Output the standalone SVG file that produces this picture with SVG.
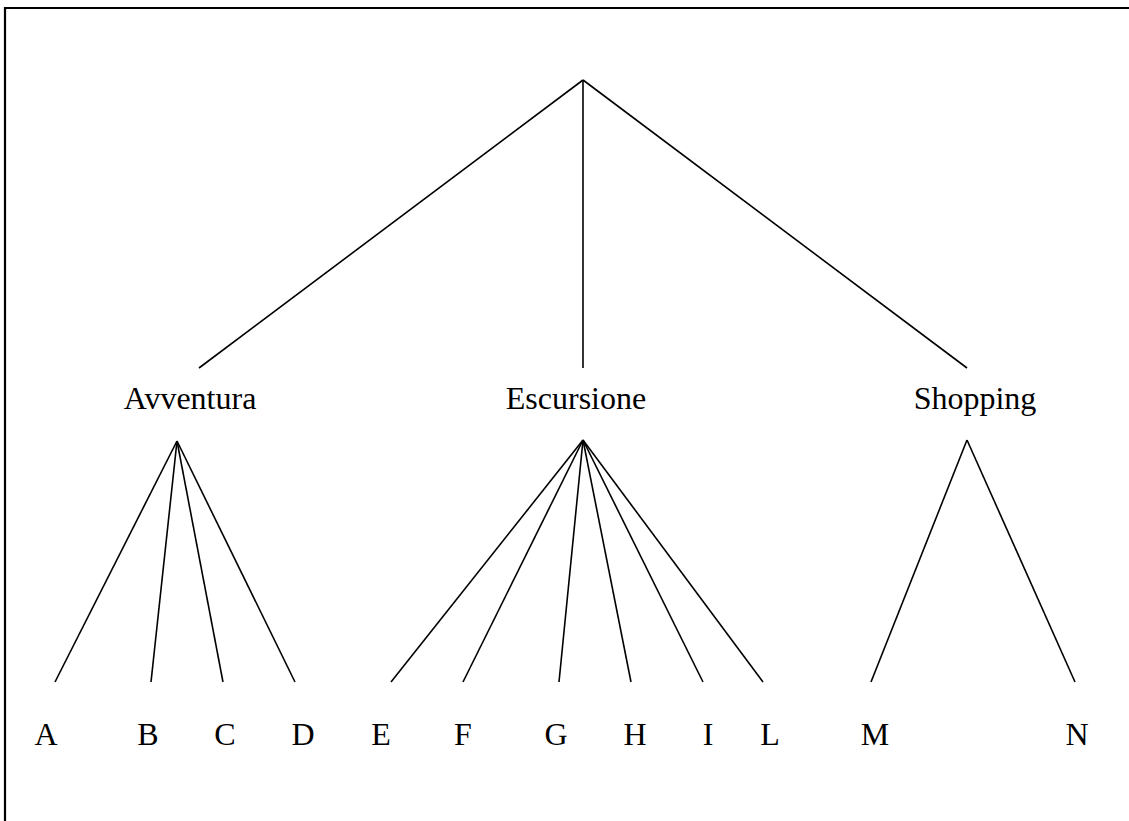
<svg xmlns="http://www.w3.org/2000/svg" width="1129" height="821" viewBox="0 0 1129 821">
<style>
.t{font-family:"Liberation Serif","Times New Roman",serif;font-size:32px;fill:#000;text-anchor:middle}
.c line{stroke:#000;stroke-width:1.6;fill:none}
</style>
<rect width="1129" height="821" fill="#fff"/>
<g id="frame" stroke="#000" stroke-width="2.2" fill="none">
<line x1="5" y1="8" x2="1129" y2="8"/>
<line x1="5" y1="7" x2="5" y2="821"/>
</g>
<g id="connectors" class="c">
<line x1="583" y1="80" x2="199" y2="368"/>
<line x1="583" y1="80" x2="583" y2="368"/>
<line x1="583" y1="80" x2="967" y2="368"/>
<line x1="177" y1="441" x2="55" y2="682"/>
<line x1="177" y1="441" x2="151" y2="682"/>
<line x1="177" y1="441" x2="223" y2="682"/>
<line x1="177" y1="441" x2="295" y2="682"/>
<line x1="583" y1="440" x2="391" y2="682"/>
<line x1="583" y1="440" x2="463" y2="682"/>
<line x1="583" y1="440" x2="559" y2="682"/>
<line x1="583" y1="440" x2="631" y2="682"/>
<line x1="583" y1="440" x2="703" y2="682"/>
<line x1="583" y1="440" x2="763" y2="682"/>
<line x1="967" y1="440" x2="871" y2="682"/>
<line x1="967" y1="440" x2="1075" y2="682"/>
</g>
<g id="avventura"><text class="t" x="190" y="409">Avventura</text></g>
<g id="escursione"><text class="t" x="576" y="409">Escursione</text></g>
<g id="shopping"><text class="t" x="975" y="409">Shopping</text></g>
<g id="leaf-A"><text class="t" x="46" y="745">A</text></g>
<g id="leaf-B"><text class="t" x="148" y="745">B</text></g>
<g id="leaf-C"><text class="t" x="225" y="745">C</text></g>
<g id="leaf-D"><text class="t" x="303" y="745">D</text></g>
<g id="leaf-E"><text class="t" x="381" y="745">E</text></g>
<g id="leaf-F"><text class="t" x="463" y="745">F</text></g>
<g id="leaf-G"><text class="t" x="556" y="745">G</text></g>
<g id="leaf-H"><text class="t" x="635" y="745">H</text></g>
<g id="leaf-I"><text class="t" x="708" y="745">I</text></g>
<g id="leaf-L"><text class="t" x="770" y="745">L</text></g>
<g id="leaf-M"><text class="t" x="875" y="745">M</text></g>
<g id="leaf-N"><text class="t" x="1077" y="745">N</text></g>
</svg>
